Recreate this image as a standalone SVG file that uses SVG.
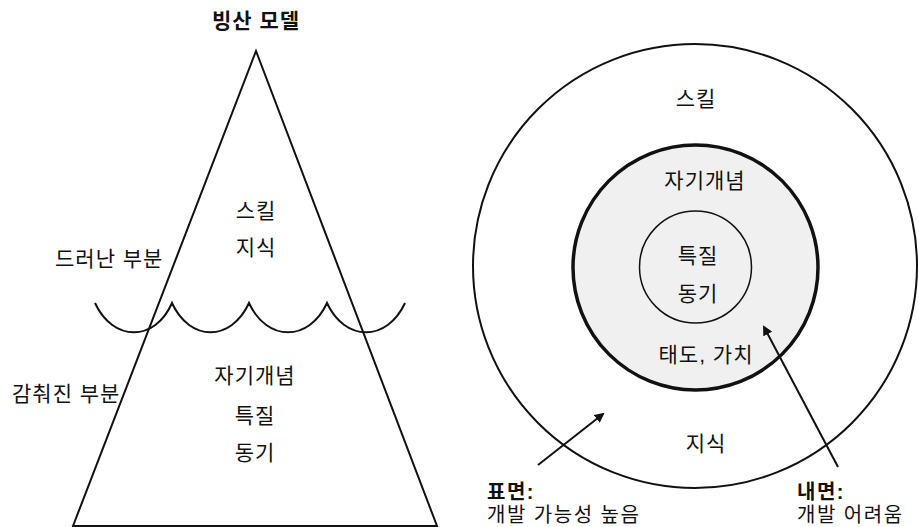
<svg xmlns="http://www.w3.org/2000/svg" width="919" height="527" viewBox="0 0 919 527">
<style>
text{font-family:"Liberation Sans","Noto Sans CJK KR",sans-serif;font-size:21px;letter-spacing:1px;fill:#111;text-anchor:middle}
.b{font-weight:bold}
.l{text-anchor:start}
.s{font-size:20px;letter-spacing:1.5px}
.ln{fill:none;stroke:#111;stroke-width:2}
</style>
<defs>
<marker id="ah" viewBox="0 0 10 10" refX="8" refY="5" markerWidth="5" markerHeight="5" orient="auto" markerUnits="strokeWidth">
<path d="M0,0 L10,5 L0,10 z" fill="#111"/>
</marker>
</defs>
<rect width="919" height="527" fill="#fff"/>
<g id="title"><text class="b" x="256" y="28">빙산 모델</text></g>
<g id="iceberg">
<path class="ln" d="M73,526 L256,51 L437,526 Z"/>
<text x="256" y="218">스킬</text>
<text x="256" y="255">지식</text>
<text x="255" y="383">자기개념</text>
<text x="255" y="423">특질</text>
<text x="255" y="460">동기</text>
</g>
<g id="waterline">
<path class="ln" d="M95,303 C113,342 155,342 172,303 C190,342 231,342 249,303 C267,342 309,342 327,303 C345,342 387,342 405,303"/>
</g>
<g id="label-visible"><text class="l" x="55" y="266">드러난 부분</text></g>
<g id="label-hidden"><text class="l" x="12" y="401">감춰진 부분</text></g>
<g id="outer-circle">
<circle class="ln" cx="695" cy="266" r="222"/>
<text x="696" y="106">스킬</text>
<text x="706" y="451">지식</text>
</g>
<g id="middle-circle">
<circle cx="695.5" cy="267.5" r="122.5" fill="#f0f0f0" stroke="#111" stroke-width="3.5"/>
<text x="705" y="188">자기개념</text>
<text x="706" y="362">태도, 가치</text>
</g>
<g id="inner-circle">
<circle cx="695.5" cy="267" r="56" fill="#f0f0f0" stroke="#111" stroke-width="1.5"/>
<text x="698" y="263">특질</text>
<text x="698" y="301">동기</text>
</g>
<g id="connectors">
<line class="ln" x1="538" y1="465" x2="603" y2="414" stroke-width="2.5" marker-end="url(#ah)"/>
<line class="ln" x1="838" y1="467" x2="764" y2="327" stroke-width="2.5" marker-end="url(#ah)"/>
</g>
<g id="surface-label">
<text class="l b s" x="487" y="499">표면:</text>
<text class="l s" x="487" y="522">개발 가능성 높음</text>
</g>
<g id="inner-label">
<text class="l b s" x="797" y="499">내면:</text>
<text class="l s" x="797" y="522">개발 어려움</text>
</g>
</svg>
